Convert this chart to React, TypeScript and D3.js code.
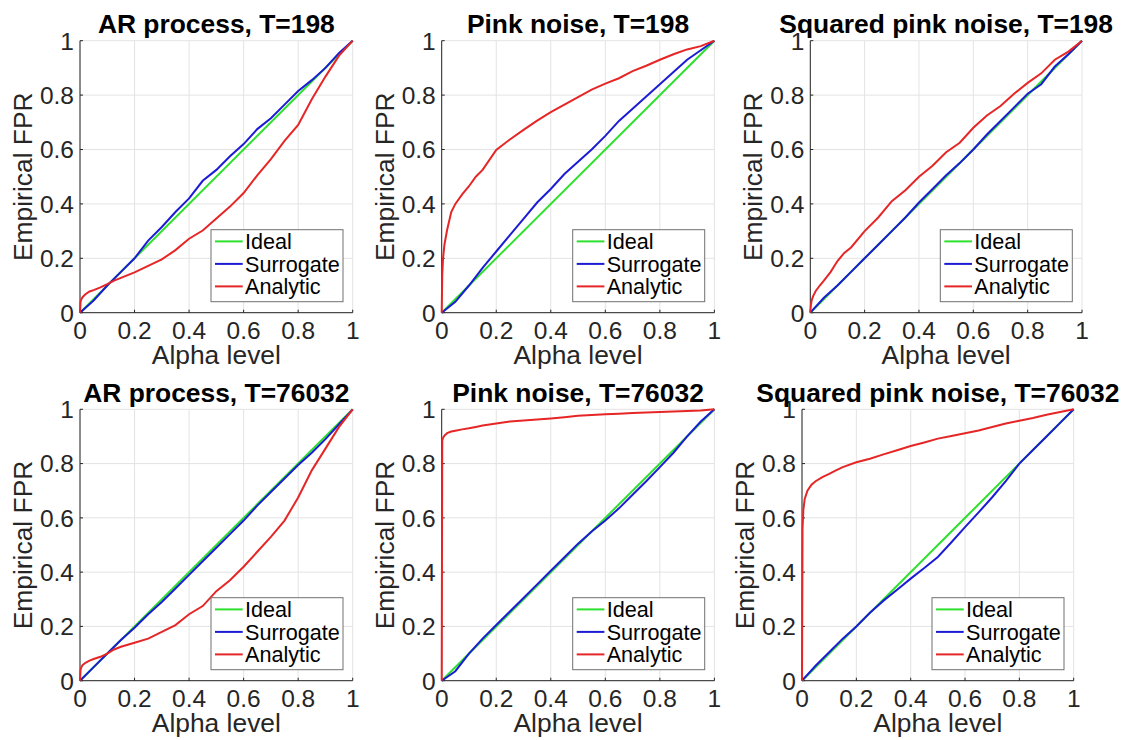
import React from 'react';
import * as d3 from 'd3';

// ---------- data ----------
const alphaFine = [0, 0.002, 0.005, 0.01, 0.02, 0.035, 0.05, 0.075, 0.1, 0.125, 0.15, 0.2, 0.25, 0.3, 0.35, 0.4, 0.45, 0.5, 0.55, 0.6, 0.65, 0.7, 0.75, 0.8, 0.85, 0.9, 0.95, 1];
const alphaCoarse = [0, 0.05, 0.1, 0.15, 0.2, 0.25, 0.3, 0.35, 0.4, 0.45, 0.5, 0.55, 0.6, 0.65, 0.7, 0.75, 0.8, 0.85, 0.9, 0.95, 1];
const idealAlpha = [0, 1];
const idealFPR = [0, 1];

const panelTitles = [
  'AR process, T=198',
  'Pink noise, T=198',
  'Squared pink noise, T=198',
  'AR process, T=76032',
  'Pink noise, T=76032',
  'Squared pink noise, T=76032',
];

const surrogateAR198 = [0, 0.045, 0.1, 0.15, 0.2, 0.265, 0.315, 0.37, 0.42, 0.485, 0.525, 0.575, 0.62, 0.675, 0.715, 0.765, 0.815, 0.855, 0.9, 0.955, 1];
const surrogatePink198 = [0, 0.04, 0.1, 0.165, 0.225, 0.285, 0.345, 0.405, 0.455, 0.51, 0.555, 0.6, 0.65, 0.705, 0.75, 0.795, 0.84, 0.885, 0.93, 0.965, 1];
const surrogateSqPink198 = [0, 0.055, 0.1, 0.15, 0.2, 0.25, 0.3, 0.35, 0.405, 0.455, 0.505, 0.55, 0.6, 0.655, 0.705, 0.755, 0.805, 0.84, 0.905, 0.95, 1];
const surrogateAR76032 = [0, 0.05, 0.1, 0.15, 0.195, 0.245, 0.29, 0.34, 0.39, 0.44, 0.49, 0.54, 0.59, 0.645, 0.695, 0.745, 0.795, 0.84, 0.89, 0.945, 1];
const surrogatePink76032 = [0, 0.035, 0.1, 0.155, 0.205, 0.255, 0.305, 0.355, 0.405, 0.455, 0.505, 0.55, 0.59, 0.635, 0.685, 0.735, 0.787, 0.84, 0.9, 0.955, 1];
const surrogateSqPink76032 = [0, 0.055, 0.105, 0.155, 0.2, 0.25, 0.295, 0.335, 0.376, 0.415, 0.456, 0.51, 0.566, 0.62, 0.676, 0.735, 0.8, 0.85, 0.9, 0.95, 1];

const analyticAR198 = [0, 0.04, 0.05, 0.058, 0.068, 0.078, 0.083, 0.093, 0.105, 0.118, 0.128, 0.148, 0.172, 0.196, 0.23, 0.272, 0.302, 0.346, 0.39, 0.44, 0.505, 0.565, 0.632, 0.69, 0.785, 0.868, 0.945, 1];
const analyticPink198 = [0, 0.14, 0.2, 0.25, 0.305, 0.37, 0.4, 0.435, 0.465, 0.5, 0.525, 0.598, 0.637, 0.672, 0.706, 0.737, 0.765, 0.793, 0.82, 0.842, 0.862, 0.888, 0.908, 0.93, 0.95, 0.968, 0.98, 1];
const analyticSqPink198 = [0, 0.025, 0.045, 0.06, 0.08, 0.1, 0.118, 0.15, 0.19, 0.22, 0.24, 0.3, 0.35, 0.41, 0.45, 0.5, 0.54, 0.59, 0.625, 0.68, 0.725, 0.76, 0.805, 0.845, 0.88, 0.93, 0.96, 1];
const analyticAR76032 = [0, 0.04, 0.05, 0.058, 0.066, 0.074, 0.08, 0.088, 0.1, 0.115, 0.125, 0.14, 0.155, 0.18, 0.205, 0.245, 0.275, 0.33, 0.37, 0.42, 0.475, 0.53, 0.59, 0.675, 0.775, 0.855, 0.935, 1];
const analyticPink76032 = [0, 0.885, 0.895, 0.903, 0.912, 0.918, 0.921, 0.926, 0.93, 0.935, 0.94, 0.948, 0.955, 0.959, 0.962, 0.966, 0.971, 0.976, 0.979, 0.982, 0.984, 0.986, 0.988, 0.99, 0.992, 0.994, 0.996, 1];
const analyticSqPink76032 = [0, 0.56, 0.63, 0.67, 0.7, 0.722, 0.735, 0.75, 0.762, 0.775, 0.787, 0.805, 0.818, 0.834, 0.849, 0.865, 0.878, 0.892, 0.902, 0.912, 0.922, 0.935, 0.948, 0.958, 0.968, 0.98, 0.99, 1];

const surrogateSeries = [surrogateAR198, surrogatePink198, surrogateSqPink198, surrogateAR76032, surrogatePink76032, surrogateSqPink76032];
const analyticSeries = [analyticAR198, analyticPink198, analyticSqPink198, analyticAR76032, analyticPink76032, analyticSqPink76032];

const tickValues = [0, 0.2, 0.4, 0.6, 0.8, 1];
const legendLabels = ['Ideal', 'Surrogate', 'Analytic'];
const xLabel = 'Alpha level';
const yLabel = 'Empirical FPR';

// ---------- layout / style ----------
const layout = [
  { left: 80, top: 40.7, width: 272.7, height: 272 },
  { left: 441.7, top: 40.7, width: 272.7, height: 272 },
  { left: 810.3, top: 40.7, width: 271.7, height: 272 },
  { left: 80, top: 409.3, width: 272.7, height: 271.4 },
  { left: 441.7, top: 409.3, width: 272.7, height: 271.4 },
  { left: 802, top: 409.3, width: 271.7, height: 271.4 },
];
const COLORS = { ideal: '#2ee02e', surrogate: '#1c1cd4', analytic: '#e62626' };
const FONT = '"Liberation Sans", Arial, Helvetica, sans-serif';
const AXIS = '#262626';
const GRID = '#e3e3e3';
const LW = 2;

function Panel({ idx }: { idx: number }) {
  const { left, top, width, height } = layout[idx];
  const x = d3.scaleLinear().domain([0, 1]).range([left, left + width]);
  const y = d3.scaleLinear().domain([0, 1]).range([top + height, top]);
  const line = d3.line<[number, number]>().x((d) => x(d[0])).y((d) => y(d[1]));
  const fmt = d3.format('~g');

  const ideal = idealAlpha.map((a, i) => [a, idealFPR[i]] as [number, number]);
  const surr = alphaCoarse.map((a, i) => [a, surrogateSeries[idx][i]] as [number, number]);
  const anal = alphaFine.map((a, i) => [a, analyticSeries[idx][i]] as [number, number]);

  const right = left + width;
  const bottom = top + height;
  const lgW = 132;
  const lgH = 72;
  const lgX = right - 9.7 - lgW;
  const lgY = bottom - 11 - lgH;
  const legendColors = [COLORS.ideal, COLORS.surrogate, COLORS.analytic];

  return (
    <g>
      {/* grid */}
      {tickValues.map((t) => (
        <line key={'gx' + t} x1={x(t)} x2={x(t)} y1={top} y2={bottom} stroke={GRID} strokeWidth={1} />
      ))}
      {tickValues.map((t) => (
        <line key={'gy' + t} x1={left} x2={right} y1={y(t)} y2={y(t)} stroke={GRID} strokeWidth={1} />
      ))}
      {/* axes */}
      <line x1={left} x2={right} y1={bottom} y2={bottom} stroke={AXIS} strokeWidth={1} />
      <line x1={left} x2={left} y1={top} y2={bottom} stroke={AXIS} strokeWidth={1} />
      {tickValues.map((t) => (
        <line key={'tx' + t} x1={x(t)} x2={x(t)} y1={bottom} y2={bottom - 3} stroke={AXIS} strokeWidth={1} />
      ))}
      {tickValues.map((t) => (
        <line key={'ty' + t} x1={left} x2={left + 3} y1={y(t)} y2={y(t)} stroke={AXIS} strokeWidth={1} />
      ))}
      {/* tick labels */}
      {tickValues.map((t) => (
        <text key={'lx' + t} x={x(t)} y={bottom + 26} textAnchor="middle" fontSize={24.5} fill="#262626" fontFamily={FONT}>
          {fmt(t)}
        </text>
      ))}
      {tickValues.map((t) => (
        <text key={'ly' + t} x={left - 6} y={y(t)} dy="0.36em" textAnchor="end" fontSize={24.5} fill="#262626" fontFamily={FONT}>
          {fmt(t)}
        </text>
      ))}
      {/* series */}
      <path d={line(ideal) || ''} fill="none" stroke={COLORS.ideal} strokeWidth={LW} />
      <path d={line(surr) || ''} fill="none" stroke={COLORS.surrogate} strokeWidth={LW} />
      <path d={line(anal) || ''} fill="none" stroke={COLORS.analytic} strokeWidth={LW} />
      {/* axis labels */}
      <text x={(left + right) / 2} y={bottom + 51} textAnchor="middle" fontSize={26.4} fill="#262626" fontFamily={FONT}>
        {xLabel}
      </text>
      <text
        transform={`translate(${left - 48},${(top + bottom) / 2}) rotate(-90)`}
        textAnchor="middle"
        fontSize={26.4}
        fill="#262626"
        fontFamily={FONT}
      >
        {yLabel}
      </text>
      {/* title */}
      <text x={(left + right) / 2} y={top - 7.5} textAnchor="middle" fontSize={26.4} fontWeight="bold" fill="#000" fontFamily={FONT}>
        {panelTitles[idx]}
      </text>
      {/* legend */}
      <rect x={lgX} y={lgY} width={lgW} height={lgH} fill="#fff" stroke="#707070" strokeWidth={1} />
      {legendLabels.map((lab, i) => {
        const cy = lgY + 11.7 + i * 22.5;
        return (
          <g key={lab}>
            <line x1={lgX + 4} x2={lgX + 31.7} y1={cy} y2={cy} stroke={legendColors[i]} strokeWidth={LW} />
            <text x={lgX + 34} y={cy} dy="0.36em" fontSize={21.6} fill="#000" fontFamily={FONT}>
              {lab}
            </text>
          </g>
        );
      })}
    </g>
  );
}

export default function App() {
  return (
    <div style={{ position: 'absolute', left: 0, top: 0 }}>
      <svg width={1128} height={740} viewBox="0 0 1128 740" style={{ display: 'block', background: '#fff' }}>
        <rect x={0} y={0} width={1128} height={740} fill="#fff" />
        {layout.map((_, i) => (
          <Panel key={i} idx={i} />
        ))}
      </svg>
    </div>
  );
}
